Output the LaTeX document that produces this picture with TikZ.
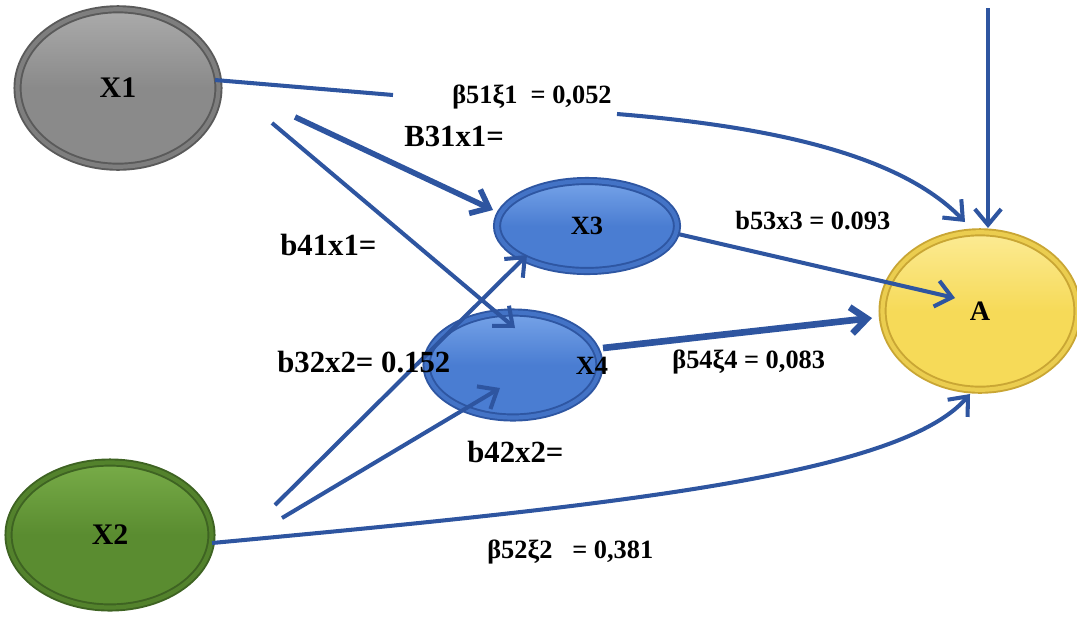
\documentclass[tikz,border=0pt]{standalone}
\usepackage{fontspec}
\setmainfont{Liberation Serif}
\usetikzlibrary{shapes.geometric,arrows.meta,calc}
\definecolor{edge}{HTML}{2E55A0}
\definecolor{grayB}{HTML}{8A8A8A}\definecolor{grayD}{HTML}{5A5A5A}\definecolor{grayL}{HTML}{ABABAB}
\definecolor{greenB}{HTML}{5A8C30}\definecolor{greenD}{HTML}{3E6322}\definecolor{greenL}{HTML}{78AC48}
\definecolor{blueB}{HTML}{4A7DD2}\definecolor{blueD}{HTML}{2E56A2}\definecolor{blueL}{HTML}{76A3E8}
\definecolor{yelB}{HTML}{F6DA58}\definecolor{yelD}{HTML}{C9A634}\definecolor{yelL}{HTML}{FCEB94}
\tikzset{
  ell/.style={ellipse, draw=#1D, double=#1B!75!#1D, double distance=2.4pt, line width=1.1pt,
    top color=#1L, bottom color=#1B, middle color=#1B, inner sep=0pt,
    font=\bfseries\fontsize{17}{17}\selectfont},
  conn/.style={draw=edge, line width=2.3pt},
  thick conn/.style={draw=edge, line width=3.2pt},
  thicker conn/.style={draw=edge, line width=3.8pt},
  tip/.style={-{Straight Barb[length=9pt,width=15pt]}},
  lbl/.style={anchor=west, inner sep=0pt, font=\bfseries\fontsize{17.5}{17.5}\selectfont},
  slbl/.style={anchor=west, inner sep=0pt, font=\bfseries\fontsize{15}{15}\selectfont}
}
\begin{document}
\begin{tikzpicture}[x=0.02cm,y=-0.02cm]
\useasboundingbox (0,0) rectangle (1077,616);
% nodes
\node[ell=gray, minimum width=4.02cm, minimum height=3.15cm] (X1) at (118,88) {X1};
\node[ell=green, minimum width=4.06cm, minimum height=2.9cm] (X2) at (110,535) {X2};
\node[ell=blue, minimum width=3.6cm, minimum height=1.8cm, font=\bfseries\fontsize{15}{15}\selectfont] (X3) at (587,226) {X3};
\node[ell=blue, minimum width=3.46cm, minimum height=2.1cm] (X4) at (513,365) {};
\node[ell=yel, minimum width=3.9cm, minimum height=3.15cm, font=\bfseries\fontsize{16}{16}\selectfont] (A) at (980,311) {A};
\node[font=\bfseries\fontsize{15}{15}\selectfont] (X4t) at (592,366) {X4};
% free ends
\coordinate (top) at (988,8);
\coordinate (g1) at (393,95);
\coordinate (g2) at (617,114);
% connectors
\draw[conn] ($(X1)+(97,-8)$) -- (g1);
\draw[conn,tip] (g2) .. controls (790,128) and (905,160) .. ($(A)+(-15,-89)$);
\draw[thick conn,tip] ($(X1)+(177,29)$) -- ($(X3)+(-94,-16)$);
\draw[conn,tip] ($(X1)+(154,35)$) -- ($(X4)+(2,-37)$);
\draw[conn,tip] ($(X2)+(165,-30)$) -- ($(X3)+(-60,29)$);
\draw[conn,tip] ($(X2)+(172,-17)$) -- ($(X4)+(-13,23)$);
\draw[conn,tip] ($(X2)+(102,8)$) .. controls (620,505) and (900,475) .. ($(A)+(-10,83)$);
\draw[conn,tip] ($(X3)+(91,8)$) -- ($(A)+(-25,-13)$);
\draw[thicker conn,tip] ($(X4)+(90,-17)$) -- ($(A)+(-108,7)$);
\draw[conn,tip] (top) -- ($(A)+(8,-83)$);
% labels
\node[slbl] (l51) at (452,97) {β51ξ1\ \ = 0,052};
\node[lbl] (l31) at (404,136) {B31x1=};
\node[lbl] (l41) at (280,245) {b41x1=};
\node[slbl] (l53) at (735,221) {b53x3 = 0.093};
\node[lbl] (l32) at (277,362) {b32x2= 0.152};
\node[slbl] (l54) at (672,362) {β54ξ4 = 0,083};
\node[lbl] (l42) at (467,452) {b42x2=};
\node[slbl] (l52) at (487,552) {β52ξ2\hspace{0.75em}= 0,381};
\end{tikzpicture}
\end{document}
